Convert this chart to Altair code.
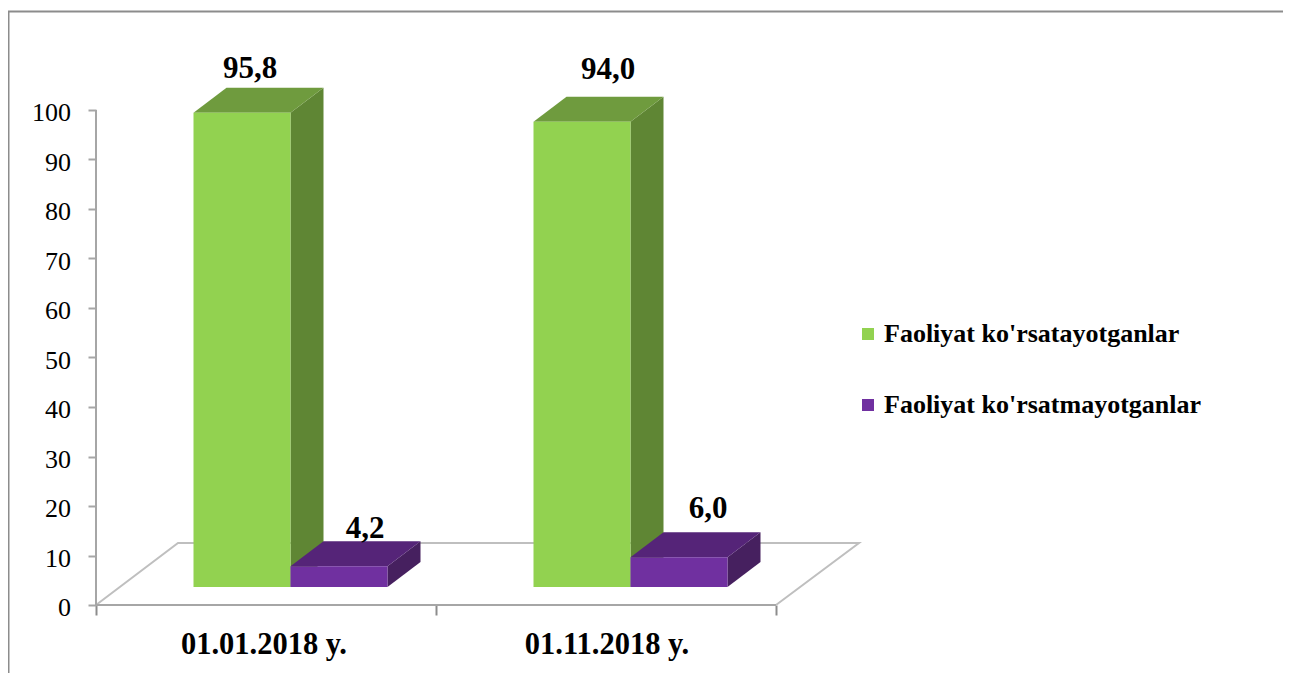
import altair as alt
import pandas as pd

categories = ["01.01.2018 y.", "01.11.2018 y."]
series = ["Faoliyat ko'rsatayotganlar", "Faoliyat ko'rsatmayotganlar"]
active = [95.8, 94.0]
inactive = [4.2, 6.0]
value_text = {95.8: "95,8", 94.0: "94,0", 4.2: "4,2", 6.0: "6,0"}

FONT = "Liberation Serif"
W, H = 1275, 665
PX_X, PX_Y = 340.0, 4.95       # pixels per axis unit
X0, Y0 = 96 - 8, 605 - 8       # page position of the axes' origin
xscale = alt.Scale(domain=[-X0 / PX_X, (W - X0) / PX_X], nice=False, zero=False)
yscale = alt.Scale(domain=[(Y0 - H) / PX_Y, Y0 / PX_Y], nice=False, zero=False)

BASE = 18 / PX_Y       # bars stand on the 3D floor
DX, DY = 33 / PX_X, 25 / PX_Y
BW = 97 / PX_X
OFF = 97.5 / PX_X

FRONT = ["#92D250", "#7030A0"]
TOP = ["#6F9B3E", "#552478"]
SIDE = ["#5F8634", "#46205F"]
GRID = "#A6A6A6"
FLOOR = "#BFBFBF"

x_axis = alt.Axis(
    values=[0, 1, 2], labels=False, title=None, grid=False, domain=False,
    tickSize=10, tickWidth=2, tickColor="#8C8C8C", offset=-(H - Y0))
y_axis = alt.Axis(
    values=list(range(0, 101, 10)), title=None, grid=False, domain=False,
    tickSize=8, tickWidth=2, tickColor=GRID, offset=-X0, labelPadding=17.5,
    labelOffset=2.5, labelFont=FONT, labelFontSize=26, labelColor="#000000")

X = lambda f="x": alt.X(f"{f}:Q", scale=xscale, axis=x_axis)
Y = lambda f="y": alt.Y(f"{f}:Q", scale=yscale, axis=y_axis)

# frame
frame = [
    alt.Chart(pd.DataFrame({"a": [0]})).mark_rule(color="#8C8C8C", strokeWidth=2).encode(
        x=alt.value(0), x2=alt.value(W), y=alt.value(3.5)),
    alt.Chart(pd.DataFrame({"a": [0]})).mark_rule(color="#8C8C8C", strokeWidth=2).encode(
        x=alt.value(0.5), y=alt.value(3.5), y2=alt.value(H)),
]

# floor
floor_df = pd.DataFrame({
    "x": [0, 82 / PX_X, 2 + 83 / PX_X, 2],
    "y": [0, 62 / PX_Y, 62 / PX_Y, 0],
    "i": [0, 1, 2, 3],
})
floor = alt.Chart(floor_df).mark_line(color=FLOOR, strokeWidth=2).encode(
    x=X(), y=Y(), order="i:Q")

y_line = alt.Chart(pd.DataFrame({"x": [0], "y": [0], "y2": [100]})).mark_rule(
    color=GRID, strokeWidth=2).encode(x=X(), y=Y(), y2="y2:Q")
x_line = alt.Chart(pd.DataFrame({"x": [0], "x2": [2], "y": [0]})).mark_rule(
    color=GRID, strokeWidth=2).encode(x=X(), x2="x2:Q", y=Y())

# bars
layers = []
for c in range(2):
    for s, vals in enumerate([active, inactive]):
        v = vals[c]
        x0 = c + OFF + s * BW
        x1 = x0 + BW
        bottom, top = BASE, BASE + v
        side = pd.DataFrame({"x": [x1, x1 + DX], "y": [bottom, bottom + DY], "y2": [top, top + DY]})
        layers.append(alt.Chart(side).mark_area(color=SIDE[s], orient="vertical").encode(
            x=X(), y=Y(), y2="y2:Q"))
        lid = pd.DataFrame({"y": [top, top + DY], "x": [x0, x0 + DX], "x2": [x1, x1 + DX]})
        layers.append(alt.Chart(lid).mark_area(color=TOP[s], orient="horizontal").encode(
            y=Y(), x=X(), x2="x2:Q"))

bars_df = pd.DataFrame([
    {"series": series[s], "x": c + OFF + s * BW, "x2": c + OFF + (s + 1) * BW,
     "y": BASE, "y2": BASE + vals[c]}
    for c in range(2) for s, vals in enumerate([active, inactive])
])
fronts = alt.Chart(bars_df).mark_rect().encode(
    x=X(), x2="x2:Q", y=Y(), y2="y2:Q",
    color=alt.Color("series:N", scale=alt.Scale(domain=series, range=FRONT), legend=alt.Legend(
        title=None, orient="none", legendX=847, legendY=313, padding=0,
        symbolType="square", symbolSize=144, symbolStrokeWidth=0, symbolOpacity=1,
        labelFont=FONT, labelFontSize=26, labelFontWeight="bold", labelColor="#000000",
        labelOffset=3, rowPadding=45, labelLimit=420)),
)

# value labels, each nudged as in the picture
nudges = {95.8: (8, -44), 94.0: (26, -52), 4.2: (26, -37), 6.0: (29, -48)}
texts = []
for c in range(2):
    for s, vals in enumerate([active, inactive]):
        v = vals[c]
        dx, dy = nudges[v]
        t = pd.DataFrame({"x": [c + OFF + (s + 0.5) * BW], "y": [BASE + v], "t": [value_text[v]]})
        texts.append(alt.Chart(t).mark_text(
            font=FONT, fontSize=31, fontWeight="bold", color="#000000", dx=dx, dy=dy, baseline="middle"
        ).encode(x=X(), y=Y(), text="t:N"))

cat_df = pd.DataFrame({"x": [0.494, 1.503], "y": [0, 0], "t": categories})
cats = alt.Chart(cat_df).mark_text(
    font=FONT, fontSize=30.5, fontWeight="bold", color="#000000", dy=40, baseline="middle"
).encode(x=X(), y=Y(), text="t:N")

chart = alt.layer(
    *frame, floor, y_line, x_line, *layers, fronts, *texts, cats
).properties(
    width=W, height=H, padding=0,
    autosize=alt.AutoSizeParams(type="none"),
).configure_view(stroke=None)

chart.save("out.html", embed_options={"renderer": "svg", "actions": False})
